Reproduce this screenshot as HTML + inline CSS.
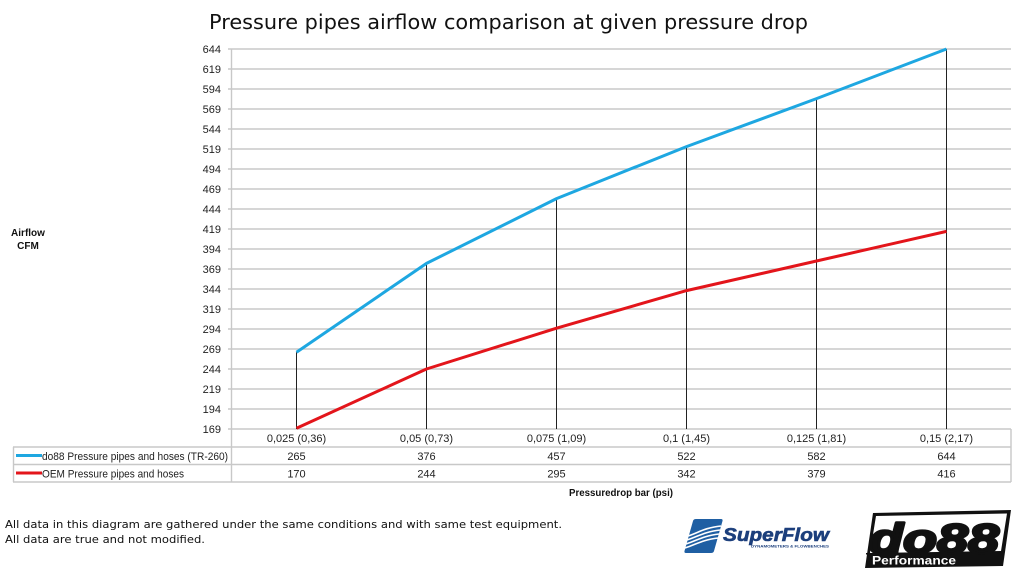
<!DOCTYPE html>
<html><head><meta charset="utf-8"><style>
html,body{margin:0;padding:0;background:#fff;}
svg{display:block;}
</style></head><body>
<svg width="1024" height="574" viewBox="0 0 1024 574" xmlns="http://www.w3.org/2000/svg">
<rect width="1024" height="574" fill="#fff"/>
<text x="209" y="29" font-family="DejaVu Sans, Verdana, sans-serif" font-size="20.5" fill="#111" textLength="599" lengthAdjust="spacingAndGlyphs">Pressure pipes airflow comparison at given pressure drop</text>

<g stroke="#c8c8c8" stroke-width="1.4">
<line x1="228" y1="49" x2="1011" y2="49"/><line x1="228" y1="69" x2="1011" y2="69"/><line x1="228" y1="89" x2="1011" y2="89"/><line x1="228" y1="109" x2="1011" y2="109"/><line x1="228" y1="129" x2="1011" y2="129"/><line x1="228" y1="149" x2="1011" y2="149"/><line x1="228" y1="169" x2="1011" y2="169"/><line x1="228" y1="189" x2="1011" y2="189"/><line x1="228" y1="209" x2="1011" y2="209"/><line x1="228" y1="229" x2="1011" y2="229"/><line x1="228" y1="249" x2="1011" y2="249"/><line x1="228" y1="269" x2="1011" y2="269"/><line x1="228" y1="289" x2="1011" y2="289"/><line x1="228" y1="309" x2="1011" y2="309"/><line x1="228" y1="329" x2="1011" y2="329"/><line x1="228" y1="349" x2="1011" y2="349"/><line x1="228" y1="369" x2="1011" y2="369"/><line x1="228" y1="389" x2="1011" y2="389"/><line x1="228" y1="409" x2="1011" y2="409"/><line x1="228" y1="429" x2="1011" y2="429"/>
<line x1="231.5" y1="49" x2="231.5" y2="482"/>
<line x1="1011" y1="429" x2="1011" y2="482"/>
<line x1="13" y1="447" x2="1011" y2="447"/>
<line x1="13" y1="464.5" x2="1011" y2="464.5"/>
<line x1="13" y1="482" x2="1011" y2="482"/>
<line x1="13.5" y1="447" x2="13.5" y2="482"/>
</g>

<g font-family="Liberation Sans, Arial, sans-serif" font-size="11" fill="#222" text-anchor="end">
<text x="221" y="53">644</text><text x="221" y="73">619</text><text x="221" y="93">594</text><text x="221" y="113">569</text><text x="221" y="133">544</text><text x="221" y="153">519</text><text x="221" y="173">494</text><text x="221" y="193">469</text><text x="221" y="213">444</text><text x="221" y="233">419</text><text x="221" y="253">394</text><text x="221" y="273">369</text><text x="221" y="293">344</text><text x="221" y="313">319</text><text x="221" y="333">294</text><text x="221" y="353">269</text><text x="221" y="373">244</text><text x="221" y="393">219</text><text x="221" y="413">194</text><text x="221" y="433">169</text>
</g>

<g stroke="#222" stroke-width="1">
<line x1="296.5" y1="352.2" x2="296.5" y2="429"/>
<line x1="426.5" y1="263.4" x2="426.5" y2="429"/>
<line x1="556.5" y1="198.6" x2="556.5" y2="429"/>
<line x1="686.5" y1="146.6" x2="686.5" y2="429"/>
<line x1="816.5" y1="98.6" x2="816.5" y2="429"/>
<line x1="946.5" y1="49" x2="946.5" y2="429"/>
</g>

<polyline points="296.5,352.2 426.5,263.4 556.5,198.6 686.5,146.6 816.5,98.6 946.5,49" fill="none" stroke="#1ea7e1" stroke-width="3" stroke-linejoin="round"/>
<polyline points="296.5,428.2 426.5,369 556.5,328.2 686.5,290.6 816.5,261 946.5,231.4" fill="none" stroke="#e3151b" stroke-width="3" stroke-linejoin="round"/>

<g font-family="Liberation Sans, Arial, sans-serif" font-size="11" fill="#222" text-anchor="middle">
<text x="296.5" y="442">0,025 (0,36)</text><text x="426.5" y="442">0,05 (0,73)</text><text x="556.5" y="442">0,075 (1,09)</text><text x="686.5" y="442">0,1 (1,45)</text><text x="816.5" y="442">0,125 (1,81)</text><text x="946.5" y="442">0,15 (2,17)</text>
<text x="296.5" y="460">265</text><text x="426.5" y="460">376</text><text x="556.5" y="460">457</text><text x="686.5" y="460">522</text><text x="816.5" y="460">582</text><text x="946.5" y="460">644</text>
<text x="296.5" y="477.5">170</text><text x="426.5" y="477.5">244</text><text x="556.5" y="477.5">295</text><text x="686.5" y="477.5">342</text><text x="816.5" y="477.5">379</text><text x="946.5" y="477.5">416</text>
</g>

<line x1="16" y1="455.5" x2="42" y2="455.5" stroke="#1ea7e1" stroke-width="3"/>
<line x1="16" y1="473" x2="42" y2="473" stroke="#e3151b" stroke-width="3"/>
<g font-family="Liberation Sans, Arial, sans-serif" font-size="11" fill="#222">
<text x="42" y="460" textLength="186" lengthAdjust="spacingAndGlyphs">do88 Pressure pipes and hoses (TR-260)</text>
<text x="42" y="477.5" textLength="142" lengthAdjust="spacingAndGlyphs">OEM Pressure pipes and hoses</text>
</g>

<g font-family="Liberation Sans, Arial, sans-serif" font-size="10" font-weight="bold" fill="#111" text-anchor="middle">
<text x="28" y="236">Airflow</text>
<text x="28" y="249">CFM</text>
<text x="621" y="496" textLength="104" lengthAdjust="spacingAndGlyphs">Pressuredrop bar (psi)</text>
</g>

<g font-family="DejaVu Sans, Verdana, sans-serif" font-size="11" fill="#111">
<text x="5" y="528" textLength="557" lengthAdjust="spacingAndGlyphs">All data in this diagram are gathered under the same conditions and with same test equipment.</text>
<text x="5" y="543" textLength="200" lengthAdjust="spacingAndGlyphs">All data are true and not modified.</text>
</g>

<!-- SuperFlow logo -->
<path d="M700,519 L721,519 Q723,519 722.5,521 L714,551 Q713.5,553 711,553 L686,553 Q684,553 684.5,551 L693,521 Q693.5,519 696,519 Z" fill="#1f5fa3"/>
<g fill="none" stroke="#fff" stroke-width="1.6">
<path d="M688,536 C700,532 704,528 721,526"/>
<path d="M687,540 C699,536 704,532 720,530"/>
<path d="M686,544 C698,540 703,536 719,534"/>
<path d="M685,548 C697,544 702,540 718,538"/>
</g>
<text x="723" y="541" font-family="Liberation Sans, Arial, sans-serif" font-size="18" font-weight="bold" font-style="italic" fill="#1c3f7c" stroke="#1c3f7c" stroke-width="0.6" textLength="106" lengthAdjust="spacingAndGlyphs">SuperFlow</text>
<text x="751" y="547.5" font-family="Liberation Sans, Arial, sans-serif" font-size="4" font-weight="bold" fill="#1c3f7c" textLength="78" lengthAdjust="spacingAndGlyphs">DYNAMOMETERS &amp; FLOWBENCHES</text>

<!-- do88 logo -->
<path d="M873,513 L1011,510 L1003,566 L865,568 Z" fill="#111"/>
<path d="M876,516 L1007,513.5 L1001,551 L870,553 Z" fill="#fff"/>
<text x="869" y="553" font-family="Liberation Sans, Arial, sans-serif" font-size="42" font-weight="bold" font-style="italic" fill="#111" stroke="#111" stroke-width="2.5" stroke-linejoin="round" textLength="130" lengthAdjust="spacingAndGlyphs">do88</text>
<rect x="866" y="553" width="136" height="1.5" fill="#111"/>
<text x="872" y="564.5" font-family="Liberation Sans, Arial, sans-serif" font-size="11.5" font-weight="bold" fill="#fff" textLength="84" lengthAdjust="spacingAndGlyphs">Performance</text>
</svg>
</body></html>
